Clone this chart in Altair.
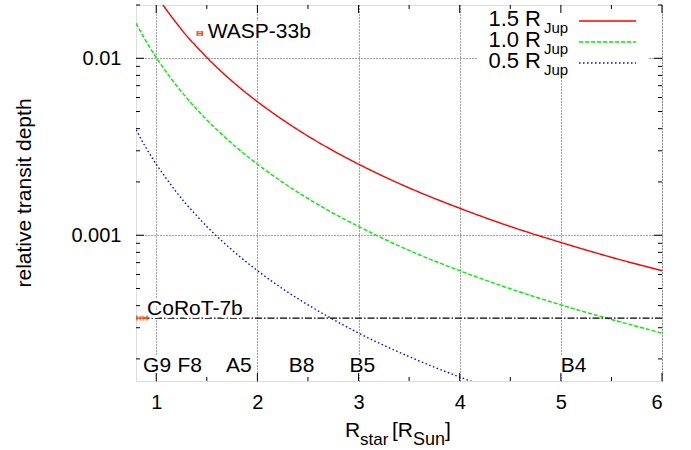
import altair as alt
import pandas as pd

# ---------------- data ----------------
r_star = [0.8, 0.9, 1.0, 1.1, 1.2, 1.3, 1.4, 1.5, 1.6, 1.8, 2.0, 2.25, 2.5, 2.75,
          3.0, 3.5, 4.0, 4.5, 5.0, 5.5, 6.0]
depth_15 = [0.0355, 0.0280, 0.0227, 0.0188, 0.0158, 0.0134, 0.0116, 0.0101, 0.00887,
            0.00701, 0.00568, 0.00449, 0.00363, 0.00300, 0.00252, 0.00185, 0.00142,
            0.00112, 0.00091, 0.00075, 0.00063]
depth_10 = [0.01577, 0.01246, 0.01009, 0.00834, 0.00701, 0.00597, 0.00515, 0.00448,
            0.00394, 0.00311, 0.00252, 0.00199, 0.00161, 0.00133, 0.00112, 0.00082,
            0.00063, 0.000498, 0.000404, 0.000334, 0.00028]
depth_05 = [0.00394, 0.00311, 0.00252, 0.00209, 0.00175, 0.00149, 0.00129, 0.00112,
            0.000986, 0.000779, 0.000631, 0.000498, 0.000404, 0.000334, 0.00028,
            0.000206, 0.000158, 0.000125, 0.000101, 0.0000834, 0.00007]

series_labels = ["1.5 R", "1.0 R", "0.5 R"]
series_colors = ["#ff0000", "#00ee00", "#0000ff"]
series_dash = [[1, 0], [4, 2], [1.5, 2.5]]

planet_names = ["WASP-33b", "CoRoT-7b"]
planet_r = [1.43, 0.86]
planet_rerr = [0.025, 0.05]
planet_depth = [0.0138, 0.00034]

spec_types = ["G9", "F8", "A5", "B8", "B5", "B4"]
spec_r = [0.87, 1.21, 1.69, 2.31, 2.91, 5.0]
spec_depth = 0.000168

x_ticks = [1, 2, 3, 4, 5, 6]
x_minor = [1.5, 2.5, 3.5, 4.5, 5.5]
y_ticks = [0.001, 0.01]
y_minor = [0.0002, 0.0003, 0.0004, 0.0005, 0.0006, 0.0007, 0.0008, 0.0009,
           0.002, 0.003, 0.004, 0.005, 0.006, 0.007, 0.008, 0.009, 0.02]

W, H = 526, 376
FONT = "Liberation Sans"
FS = 21
ORANGE = "#f25c22"

xs = alt.Scale(domain=[0.8, 6], nice=False, zero=False)
ys = alt.Scale(type="log", domain=[0.00015, 0.02], nice=False)
xaxis = alt.Axis(values=x_ticks, grid=True, gridDash=[1, 2], gridColor="#444",
                 gridWidth=1, ticks=False, tickSize=0, domain=False,
                 labelFontSize=20, labelFont=FONT, labelColor="black",
                 labelPadding=11, title=None, format="d")
yaxis = alt.Axis(values=y_ticks, grid=True, gridDash=[1, 2], gridColor="#444",
                 gridWidth=1, ticks=False, tickSize=0, domain=False,
                 labelFontSize=20, labelFont=FONT, labelColor="black",
                 labelPadding=15, title=None, format="~g")


def X(field):
    return alt.X(field, type="quantitative", scale=xs, axis=xaxis)


def Y(field):
    return alt.Y(field, type="quantitative", scale=ys, axis=yaxis)


layers = []

# curves
for lab, col, dash, vals in zip(series_labels, series_colors, series_dash,
                                [depth_15, depth_10, depth_05]):
    df = pd.DataFrame({"r": r_star, "d": vals})
    layers.append(
        alt.Chart(df).mark_line(clip=True, interpolate="monotone", color=col,
                                strokeWidth=1.4, strokeDash=dash)
        .encode(x=X("r"), y=Y("d"))
    )

# CoRoT-7b horizontal level
hdf = pd.DataFrame({"d": [planet_depth[1]]})
layers.append(
    alt.Chart(hdf).mark_rule(color="black", strokeWidth=1.2, strokeDash=[7, 2, 1.5, 2])
    .encode(y=Y("d"))
)

# planets with error bars
pdf = pd.DataFrame({"name": planet_names, "r": planet_r,
                    "lo": [a - b for a, b in zip(planet_r, planet_rerr)],
                    "hi": [a + b for a, b in zip(planet_r, planet_rerr)],
                    "d": planet_depth})
layers.append(alt.Chart(pdf).mark_rule(color=ORANGE, strokeWidth=1.5)
              .encode(x=X("lo"), x2="hi", y=Y("d")))
for f in ["lo", "hi"]:
    layers.append(alt.Chart(pdf).mark_rule(color=ORANGE, strokeWidth=1.5,
                                           yOffset=-2.5, y2Offset=2.5)
                  .encode(x=X(f), y=Y("d"), y2="d"))
layers.append(alt.Chart(pdf).mark_point(shape="square", size=14, color=ORANGE,
                                        filled=False, strokeWidth=1.2)
              .encode(x=X("r"), y=Y("d")))

# legend background box
layers.append(alt.Chart(hdf).mark_rect(color="white")
              .encode(x=alt.value(341), x2=alt.value(513),
                      y=alt.value(1), y2=alt.value(73)))

# text labels (with white halo)
sdf = pd.DataFrame({"t": spec_types, "r": spec_r, "d": [spec_depth] * len(spec_types)})
label_specs = [
    (pdf[pdf.name == "WASP-33b"], 8, 4),
    (pdf[pdf.name == "CoRoT-7b"], 5, -3),
]
for halo in [True, False]:
    kw = dict(stroke="white", strokeWidth=6, strokeJoin="round", fill="white") if halo \
        else dict(color="black")
    for d, dx, dy in label_specs:
        layers.append(alt.Chart(d).mark_text(align="left", baseline="alphabetic",
                                             font=FONT, fontSize=FS, dx=dx, dy=dy, **kw)
                      .encode(x=X("r"), y=Y("d"), text="name"))
    layers.append(alt.Chart(sdf).mark_text(align="left", baseline="alphabetic",
                                           font=FONT, fontSize=FS, **kw)
                  .encode(x=X("r"), y=Y("d"), text="t"))

# inward ticks
def tick_layers(vals, length, axis):
    df = pd.DataFrame({"v": vals})
    out = []
    if axis == "x":
        out.append(alt.Chart(df).mark_rule(color="black", strokeWidth=1)
                   .encode(x=X("v"), y=alt.value(H), y2=alt.value(H - length)))
        out.append(alt.Chart(df).mark_rule(color="black", strokeWidth=1)
                   .encode(x=X("v"), y=alt.value(0), y2=alt.value(length)))
    else:
        out.append(alt.Chart(df).mark_rule(color="black", strokeWidth=1)
                   .encode(y=Y("v"), x=alt.value(0), x2=alt.value(length)))
        out.append(alt.Chart(df).mark_rule(color="black", strokeWidth=1)
                   .encode(y=Y("v"), x=alt.value(W), x2=alt.value(W - length)))
    return out

layers += tick_layers(x_ticks, 8, "x")
layers += tick_layers(x_minor, 4, "x")
layers += tick_layers(y_ticks, 8, "y")
layers += tick_layers(y_minor, 4, "y")

# custom legend
leg_base = [21, 42, 63]
for i, (lab, col, dash) in enumerate(zip(series_labels, series_colors, series_dash)):
    yb = leg_base[i]
    one = pd.DataFrame({"t": [lab], "s": ["Jup"]})
    layers.append(alt.Chart(one).mark_text(align="right", baseline="alphabetic",
                                           font=FONT, fontSize=22, color="black")
                  .encode(x=alt.value(405), y=alt.value(yb), text="t"))
    layers.append(alt.Chart(one).mark_text(align="left", baseline="alphabetic",
                                           font=FONT, fontSize=15, color="black")
                  .encode(x=alt.value(408), y=alt.value(yb + 7), text="s"))
    layers.append(alt.Chart(one).mark_rule(color=col, strokeWidth=1.4, strokeDash=dash)
                  .encode(x=alt.value(443), x2=alt.value(500), y=alt.value(yb - 5)))

# axis titles
tdf = pd.DataFrame({"t": ["relative transit depth"]})
layers.append(alt.Chart(tdf).mark_text(angle=270, align="center", baseline="middle",
                                       font=FONT, fontSize=FS, color="black")
              .encode(x=alt.value(-111), y=alt.value(188), text="t"))
xt_pieces = [("R", 209, 432, FS), ("star", 224, 440, 17), ("[R", 256, 432, FS),
             ("Sun", 277, 440, 18), ("]", 309, 432, FS)]
for t, px, py, fs in xt_pieces:
    d = pd.DataFrame({"t": [t]})
    layers.append(alt.Chart(d).mark_text(align="left", baseline="alphabetic",
                                         font=FONT, fontSize=fs, color="black")
                  .encode(x=alt.value(px), y=alt.value(py), text="t"))

chart = alt.layer(*layers).properties(
    width=W, height=H,
    autosize=alt.AutoSizeParams(type="none"),
    padding={"left": 136, "top": 5, "right": 29, "bottom": 69},
).configure_view(stroke="black", strokeWidth=1.5).configure(background="white")

chart.save("out.html", embed_options={"renderer": "svg", "actions": False})
